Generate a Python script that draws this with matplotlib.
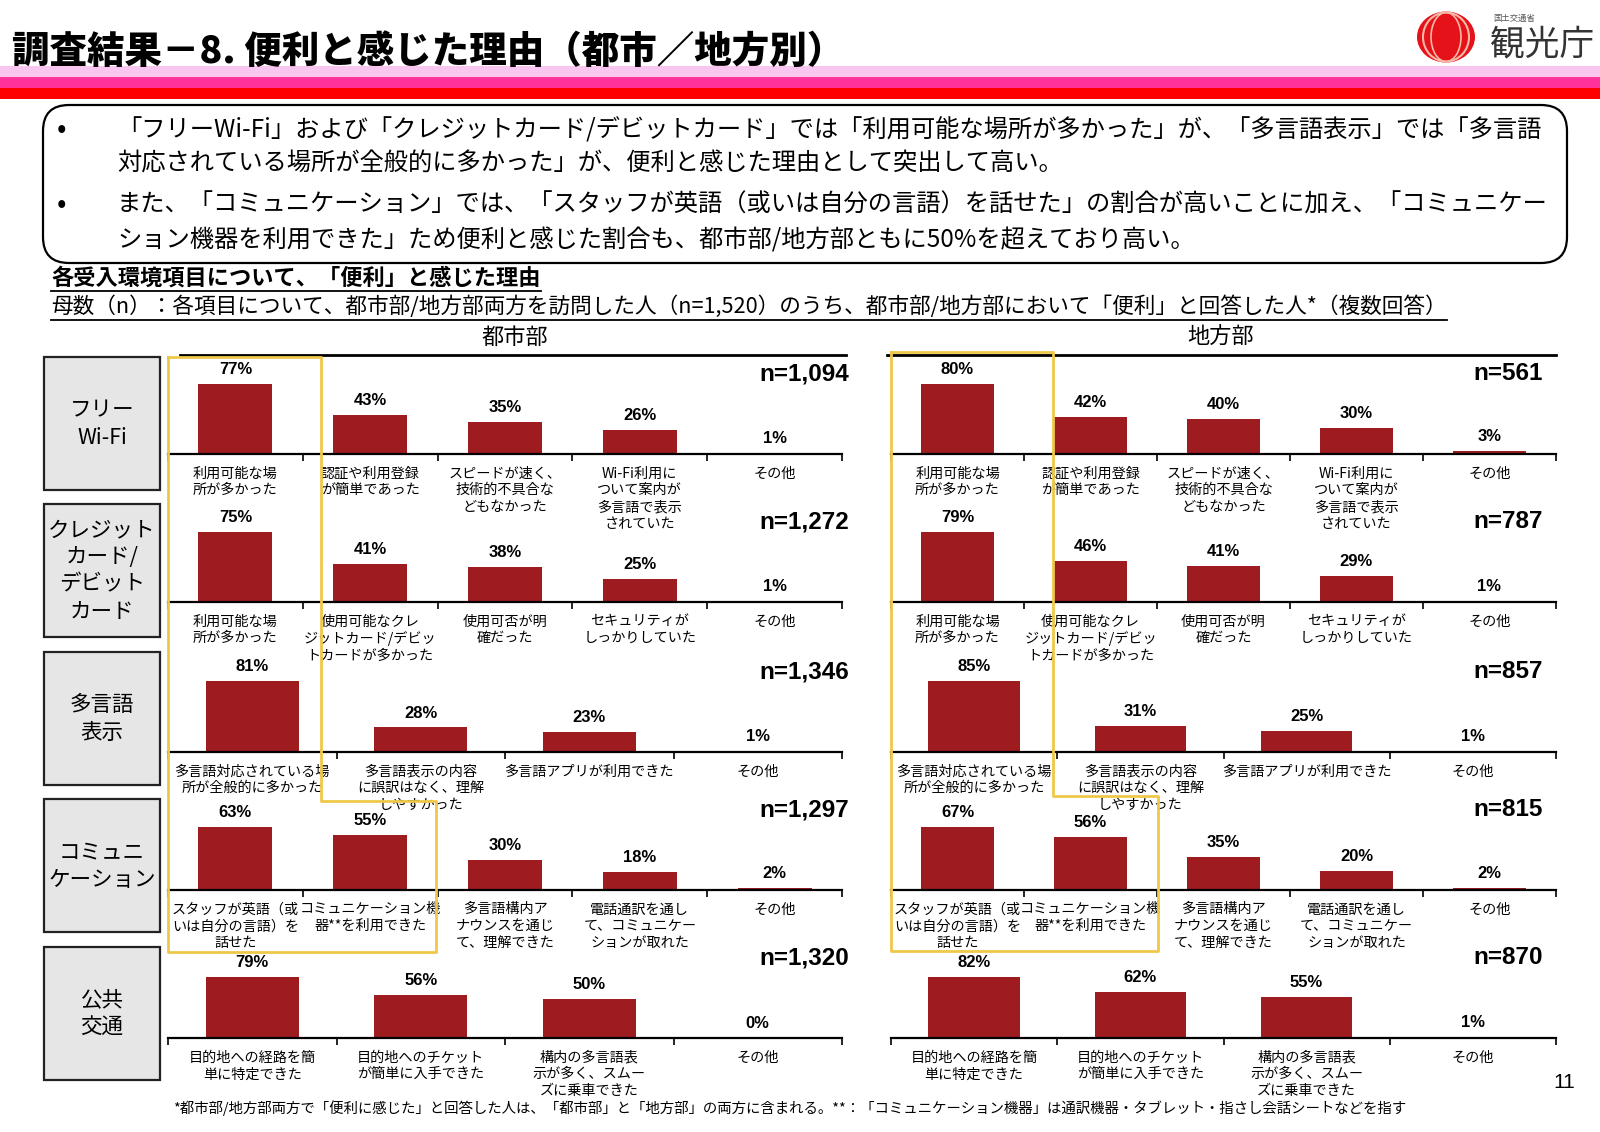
import matplotlib
matplotlib.use("Agg")
import matplotlib.pyplot as plt
from matplotlib.patches import FancyBboxPatch, Rectangle, Ellipse
import numpy as np

W, H = 1600, 1132
JP = ['Noto Sans CJK JP', 'DejaVu Sans']
NUM = ['Liberation Sans', 'Noto Sans CJK JP']
plt.rcParams['font.family'] = JP

# data
row_titles = ["フリー\nWi-Fi", "クレジット\nカード/\nデビット\nカード", "多言語\n表示",
              "コミュニ\nケーション", "公共\n交通"]

cats_wifi = ["利用可能な場\n所が多かった", "認証や利用登録\nが簡単であった",
             "スピードが速く、\n技術的不具合な\nどもなかった",
             "Wi-Fi利用に\nついて案内が\n多言語で表示\nされていた", "その他"]
city_wifi = [77, 43, 35, 26, 1]
rural_wifi = [80, 42, 40, 30, 3]

cats_card = ["利用可能な場\n所が多かった", "使用可能なクレ\nジットカード/デビッ\nトカードが多かった",
             "使用可否が明\n確だった", "セキュリティが\nしっかりしていた", "その他"]
city_card = [75, 41, 38, 25, 1]
rural_card = [79, 46, 41, 29, 1]

cats_lang = ["多言語対応されている場\n所が全般的に多かった",
             "多言語表示の内容\nに誤訳はなく、理解\nしやすかった",
             "多言語アプリが利用できた", "その他"]
city_lang = [81, 28, 23, 1]
rural_lang = [85, 31, 25, 1]

cats_comm = ["スタッフが英語（或\nいは自分の言語）を\n話せた", "コミュニケーション機\n器**を利用できた",
             "多言語構内ア\nナウンスを通じ\nて、理解できた",
             "電話通訳を通し\nて、コミュニケー\nションが取れた", "その他"]
city_comm = [63, 55, 30, 18, 2]
rural_comm = [67, 56, 35, 20, 2]

cats_trans = ["目的地への経路を簡\n単に特定できた", "目的地へのチケット\nが簡単に入手できた",
              "構内の多言語表\n示が多く、スムー\nズに乗車できた", "その他"]
city_trans = [79, 56, 50, 0]
rural_trans = [82, 62, 55, 1]

n_city = ["1,094", "1,272", "1,346", "1,297", "1,320"]
n_rural = ["561", "787", "857", "815", "870"]

categories = [cats_wifi, cats_card, cats_lang, cats_comm, cats_trans]
city_values = [city_wifi, city_card, city_lang, city_comm, city_trans]
rural_values = [rural_wifi, rural_card, rural_lang, rural_comm, rural_trans]

bullet_lines = [
    "「フリーWi-Fi」および「クレジットカード/デビットカード」では「利用可能な場所が多かった」が、「多言語表示」では「多言語",
    "対応されている場所が全般的に多かった」が、便利と感じた理由として突出して高い。",
    "また、「コミュニケーション」では、「スタッフが英語（或いは自分の言語）を話せた」の割合が高いことに加え、「コミュニケー",
    "ション機器を利用できた」ため便利と感じた割合も、都市部/地方部ともに50%を超えており高い。",
]

# layout (pixels)
RED = '#9e1b1f'
YEL = '#efc84a'
baselines = [454, 602, 752, 890, 1038]
peak_px = [70, 70, 71, 63, 61]
box_tops = [357, 504, 652, 799, 947]
panels = [(168, 842, city_values, n_city, 849), (891, 1556, rural_values, n_rural, 1543)]
AX_H = 100

fig = plt.figure(figsize=(16, 11.32), dpi=100)
bg = fig.add_axes([0, 0, 1, 1])
bg.set_xlim(0, W)
bg.set_ylim(H, 0)
bg.axis('off')

# header
bg.text(12, 52, "調査結果－8. 便利と感じた理由（都市／地方別）", fontsize=27, fontweight='heavy',
        va='center', ha='left')
bg.add_patch(Rectangle((0, 66), W, 11, color='#f8c6ef', lw=0))
bg.add_patch(Rectangle((0, 77), W, 11, color='#ff3399', lw=0))
bg.add_patch(Rectangle((0, 88), W, 11, color='#ff0000', lw=0))
bg.add_patch(Ellipse((1446, 37), 58, 51, color='#e5121a', lw=0))
bg.add_patch(Ellipse((1446, 37), 46, 49, fill=False, ec='#f6b9a8', lw=1.5))
bg.add_patch(Ellipse((1446, 37), 30, 49, fill=False, ec='#f6b9a8', lw=1.2))
bg.text(1493, 18, "国土交通省", fontsize=6, color='#555555', va='center', ha='left')
bg.text(1490, 45, "観光庁", fontsize=25, color='#333333', va='center', ha='left')

# summary box
bg.add_patch(FancyBboxPatch((43, 105), 1524, 158, boxstyle='round,pad=0,rounding_size=26',
                            fc='white', ec='black', lw=1.6))
line_y = [130, 164, 205, 241]
for i, (ly, txt) in enumerate(zip(line_y, bullet_lines)):
    if i in (0, 2):
        bg.text(62, ly, "•", fontsize=20, va='center', ha='center')
    bg.text(117, ly, txt, fontsize=17.5, va='center', ha='left')

# subtitles with underline
sub1 = bg.text(51, 278, "各受入環境項目について、「便利」と感じた理由", fontsize=16,
               fontweight='bold', va='center', ha='left')
sub2 = bg.text(51, 307, "母数（n）：各項目について、都市部/地方部両方を訪問した人（n=1,520）のうち、"
               "都市部/地方部において「便利」と回答した人*（複数回答）", fontsize=15.6,
               va='center', ha='left')
renderer = fig.canvas.get_renderer()
inv = bg.transData.inverted()
for t, uy in ((sub1, 291), (sub2, 320)):
    bb = t.get_window_extent(renderer)
    (xa, _), (xb, _) = inv.transform([(bb.x0, bb.y0), (bb.x1, bb.y0)])
    bg.plot([xa, xb], [uy, uy], color='black', lw=1.3)

bg.text(515, 337, "都市部", fontsize=16, va='center', ha='center')
bg.text(1221, 337, "地方部", fontsize=16, va='center', ha='center')
bg.plot([180, 846], [355, 355], color='black', lw=2)
bg.plot([887, 1556], [355, 355], color='black', lw=2)

# row title boxes
for top, title in zip(box_tops, row_titles):
    bg.add_patch(Rectangle((44, top), 116, 133, fc='#e6e6e6', ec='#222222', lw=1.6))
    bg.text(102, top + 67, title, fontsize=15.5, ha='center', va='center', linespacing=1.3)

# bar rows
for r in range(5):
    cats = categories[r]
    for x0, x1, values, ns, nx in panels:
        vals = values[r]
        ax = fig.add_axes([x0 / W, 1 - baselines[r] / H, (x1 - x0) / W, AX_H / H])
        pos = np.arange(len(vals))
        ax.bar(pos, vals, width=0.55, color=RED)
        ax.set_xlim(-0.5, len(vals) - 0.5)
        ax.set_ylim(0, max(vals) * AX_H / peak_px[r])
        ax.set_facecolor('none')
        for s in ('top', 'left', 'right'):
            ax.spines[s].set_visible(False)
        ax.spines['bottom'].set_linewidth(1.6)
        ax.set_yticks([])
        ax.set_xticks(np.arange(len(vals) + 1) - 0.5)
        ax.set_xticklabels([])
        ax.tick_params(axis='x', direction='out', length=5, width=1.2)
        for p, v, c in zip(pos, vals, cats):
            ax.annotate(f"{v}%", (p, v), xytext=(0, 5), textcoords='offset points',
                        ha='center', va='bottom', fontsize=12, fontweight='bold',
                        family=NUM, annotation_clip=False)
            ax.annotate(c, (p, 0), xytext=(0, -9), textcoords='offset points',
                        ha='center', va='top', fontsize=10.2, linespacing=1.25,
                        annotation_clip=False)
        bg.text(nx, baselines[r] - 80, f"n={ns[r]}", fontsize=17.5, fontweight='bold',
                family=NUM, ha='right', va='center')

# highlight outlines
top = fig.add_axes([0, 0, 1, 1], zorder=10)
top.set_xlim(0, W)
top.set_ylim(H, 0)
top.axis('off')
top.patch.set_alpha(0)
left_outline = [(168, 357), (321, 357), (321, 801), (436, 801), (436, 952), (168, 952), (168, 357)]
right_outline = [(891, 352), (1053, 352), (1053, 796), (1158, 796), (1158, 951), (891, 951), (891, 352)]
for outline in (left_outline, right_outline):
    xs, ys = zip(*outline)
    top.plot(xs, ys, color=YEL, lw=2)

# footer
bg.text(173, 1108, "*都市部/地方部両方で「便利に感じた」と回答した人は、「都市部」と「地方部」の両方に含まれる。"
        "**：「コミュニケーション機器」は通訳機器・タブレット・指さし会話シートなどを指す",
        fontsize=10.4, ha='left', va='center')
bg.text(1564, 1082, "11", fontsize=15, family=NUM, ha='center', va='center')

fig.savefig("out.png", dpi=100)
